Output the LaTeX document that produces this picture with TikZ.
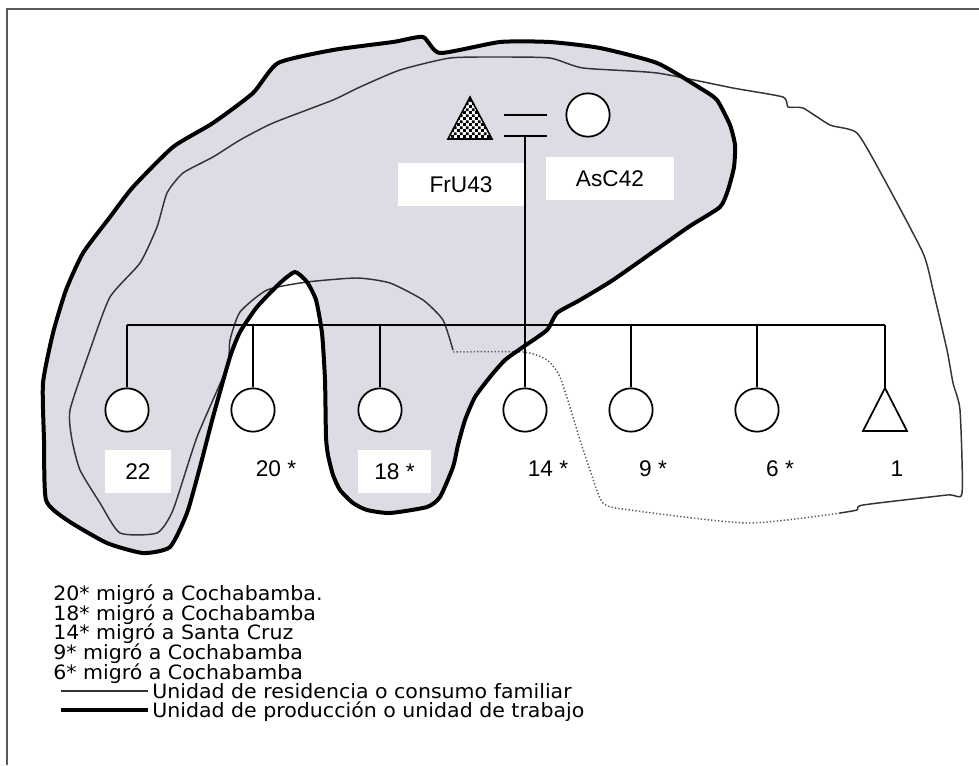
\documentclass[tikz,border=0pt]{standalone}
\usepackage{fontspec}
\setmainfont{Liberation Sans}
\newfontfamily\legendfont[FakeStretch=1.04]{DejaVu Sans}
\usetikzlibrary{patterns}
\pgfdeclarepatternformonly{finecheck}{\pgfpointorigin}{\pgfqpoint{4.4pt}{4.4pt}}{\pgfqpoint{4.4pt}{4.4pt}}{%
  \pgfpathrectangle{\pgfpointorigin}{\pgfqpoint{2.2pt}{2.2pt}}%
  \pgfpathrectangle{\pgfqpoint{2.2pt}{2.2pt}}{\pgfqpoint{2.2pt}{2.2pt}}%
  \pgfusepath{fill}}
\definecolor{prodfill}{RGB}{220,220,229}
\begin{document}
\begin{tikzpicture}[x=0.75pt,y=-0.75pt,
  kin/.style={line width=1.3pt, black},
  female/.style={circle, draw=black, line width=1.3pt, fill=white, minimum size=32.5pt, inner sep=0pt},
  namebox/.style={fill=white, inner sep=0pt, font=\fontsize{17}{20}\selectfont},
  agelabel/.style={inner sep=0pt, font=\fontsize{17}{20}\selectfont},
  legendtext/.style={anchor=base west, inner sep=0pt, font=\legendfont\fontsize{14.8}{16}\selectfont},
  prodline/.style={line width=3pt, line join=round, black},
  resline/.style={line width=1.1pt, line join=round, black!80},
  resdots/.style={line width=1.1pt, dash pattern=on 1pt off 1.6pt, black!65},
  framestyle/.style={line width=1.5pt, black!65}
]
\useasboundingbox (0,0) rectangle (979,765);
\fill[white] (0,0) rectangle (979,765);
\draw[framestyle] (7,765) -- (7,9) -- (979,9);

% production unit (thick, filled)
\def\prodpath{plot[smooth cycle, tension=0.35] coordinates {
 (278,63) (333,50) (393,42) (423,37) (440,53) (500,42) (550,42) (600,48) (657,63)
 (700,88) (717,100) (730,125) (735,145) (734,167) (728,190) (720,207) (690,226)
 (660,247) (613,280) (580,300) (557,313) (547,330) (523,347) (505,360) (490,377)
 (475,397) (465,420) (458,445) (453,467) (440,497) (427,507) (390,513) (367,510)
 (353,503) (340,490) (333,475) (328,455) (326,437) (325,380) (322,333) (316,300)
 (307,282) (295,272) (280,283) (257,307) (240,332) (230,357) (213,417) (200,467)
 (187,513) (170,547) (143,553) (107,543) (67,520) (46,500) (44,440) (43,383)
 (53,333) (66,290) (83,253) (110,217) (133,187) (173,147) (213,123) (253,93)}}
\fill[prodfill] \prodpath;

% residence unit (thin)
\draw[resline] plot[smooth, tension=0.35] coordinates {
 (453,350) (443,320) (423,300) (390,283) (357,278) (307,282) (267,290) (240,312)
 (230,340) (227,367) (197,437) (173,510) (157,533) (120,533) (100,503) (80,470)
 (72,440) (70,410) (90,350) (110,297) (140,263) (157,227) (167,193) (183,173)
 (213,157) (240,140) (273,123) (333,100) (360,87) (400,70) (450,58) (500,57)
 (550,58) (583,68) (657,73) (733,88) (783,97) (788,107) (803,108) (830,125)
 (857,133) (883,177) (923,253) (933,290) (947,350) (953,383) (960,410) (962,493)
 (947,495) (863,505) (857,510) (840,513)};
\draw[resdots] plot[smooth, tension=0.4] coordinates {
 (840,513) (747,523) (630,510) (603,503) (590,470) (580,440) (573,417) (560,377)
 (547,360) (523,352) (453,352)};

\draw[prodline] \prodpath;

% label boxes
\node[namebox, minimum width=94.5pt, minimum height=32.25pt] (lfru) at (461,184.5) {FrU43};
\node[namebox, minimum width=96pt, minimum height=32.25pt] (lasc) at (610,178.5) {AsC42};
\node[namebox, minimum width=49.5pt, minimum height=32.25pt] (l22) at (138,471.5) {22};
\node[namebox, minimum width=54.75pt, minimum height=32.25pt] (l18) at (394.5,471.5) {18 *};
\node[agelabel] (l20) at (276,469) {20 *};
\node[agelabel] (l14) at (548,469) {14 *};
\node[agelabel] (l9) at (653,469) {9 *};
\node[agelabel] (l6) at (780,469) {6 *};
\node[agelabel] (l1) at (897,469) {1};

% parents
\coordinate (fruA) at (470,97);
\coordinate (fruL) at (448,139);
\coordinate (fruR) at (492,139);
\fill[white] (fruA) -- (fruR) -- (fruL) -- cycle;
\draw[line width=1.2pt, black, line join=miter, pattern=finecheck, pattern color=black] (fruA) -- (fruR) -- (fruL) -- cycle;
\node[female] (asc) at (588,115) {};
\coordinate (ma1) at (504,115);
\coordinate (mb1) at (547,115);
\coordinate (ma2) at (504,136);
\coordinate (mb2) at (547,136);
\coordinate (desc) at (525,136);
\draw[kin] (ma1) -- (mb1);
\draw[kin] (ma2) -- (mb2);

% children
\node[female] (c22) at (127,410) {};
\node[female] (c20) at (253,410) {};
\node[female] (c18) at (380,410) {};
\node[female] (c14) at (525,410) {};
\node[female] (c9) at (631,410) {};
\node[female] (c6) at (757,410) {};
\coordinate (t1A) at (885,388);
\coordinate (t1L) at (863,431);
\coordinate (t1R) at (907,431);
\draw[kin, fill=white, line join=miter] (t1A) -- (t1R) -- (t1L) -- cycle;

\coordinate (sbl) at (127,325);
\coordinate (sbr) at (885,325);
\draw[kin] (sbl) -- (sbr);
\draw[kin] (desc) -- (c14.north);
\foreach \c in {c22,c20,c18,c9,c6} {\draw[kin] (\c.north |- sbl) -- (\c.north);}
\draw[kin] (sbr) -- (t1A);

% legend
\node[legendtext] (n1) at (53,600) {20* migró a Cochabamba.};
\node[legendtext] (n2) at (53,620) {18* migró a Cochabamba};
\node[legendtext] (n3) at (53,639) {14* migró a Santa Cruz};
\node[legendtext] (n4) at (53,659) {9* migró a Cochabamba};
\node[legendtext] (n5) at (53,679) {6* migró a Cochabamba};
\coordinate (lr1) at (61,691);
\coordinate (lr2) at (148,691);
\coordinate (lp1) at (61,710);
\coordinate (lp2) at (148,710);
\draw[resline] (lr1) -- (lr2);
\draw[prodline, line cap=butt] (lp1) -- (lp2);
\node[legendtext] (n6) at (152,698) {Unidad de residencia o consumo familiar};
\node[legendtext] (n7) at (152,717) {Unidad de producción o unidad de trabajo};
\end{tikzpicture}
\end{document}
